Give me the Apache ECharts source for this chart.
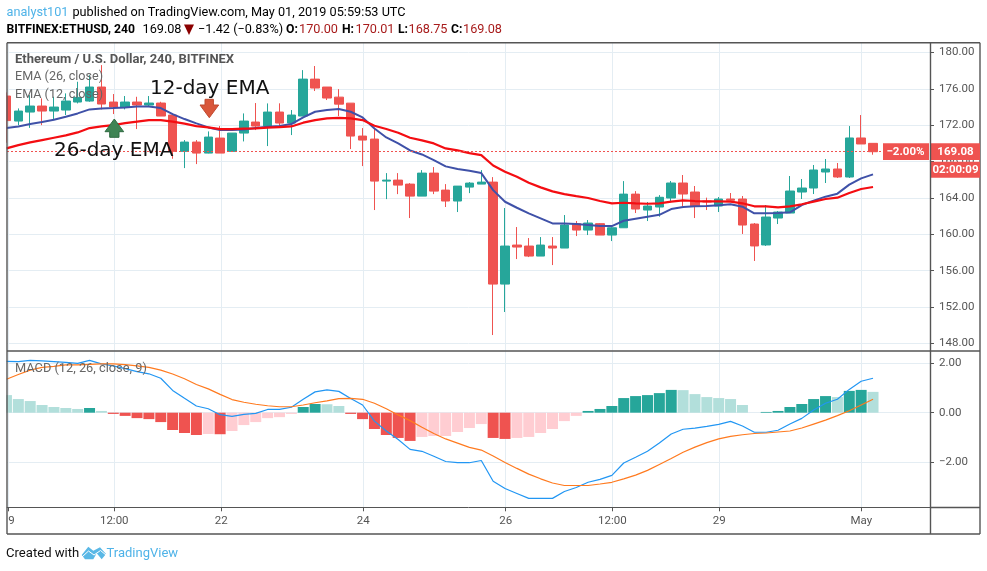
<!DOCTYPE html>
<html><head><meta charset="utf-8">
<style>html,body{margin:0;padding:0;background:#fff}#c{width:987px;height:571px}</style>
<script src="https://cdn.jsdelivr.net/npm/echarts@6/dist/echarts.min.js"></script>
</head><body><div id="c"></div>
<script>
const opens=[175.2,172.45,173.44,174.1,173.55,173.66,174.54,174.65,176.19,174.54,173.99,174.54,174.21,174.43,173.11,169.12,170.14,168.93,170.58,169.12,171.13,172.34,171.9,173.44,172.23,173.0,177.06,176.19,175.08,174.42,170.8,170.47,165.85,165.96,165.52,164.2,166.73,164.86,163.66,165.19,165.52,165.74,154.53,158.82,158.71,157.61,158.71,158.49,161.17,160.47,161.17,159.92,160.72,164.42,162.67,163.0,163.99,165.64,164.65,163.66,163.11,163.88,163.88,161.13,158.83,161.79,162.34,164.65,165.09,166.85,167.18,166.3,170.59,170.0];
const closes=[172.5,173.55,174.1,173.55,173.99,174.65,175.05,176.19,174.32,173.99,174.54,174.21,174.43,173.0,169.12,170.14,168.93,170.69,168.93,171.13,172.45,171.9,173.44,172.23,173.11,177.06,176.08,174.98,174.31,170.8,170.36,165.85,165.96,165.41,164.2,166.73,164.75,163.66,165.3,165.63,165.74,154.53,158.71,158.6,157.61,158.82,158.49,161.02,160.47,161.24,159.92,160.72,164.42,162.78,163.11,164.07,165.64,164.43,163.11,163.55,163.88,163.74,161.02,158.72,161.9,162.45,164.76,165.09,167.07,167.18,166.3,170.59,169.93,169.08];
const lows=[170.07,172.0,171.7,172.0,172.56,173.11,174.39,174.57,173.73,173.22,173.73,171.57,174.02,173.0,168.31,167.28,167.72,168.9,168.93,169.12,170.21,171.46,169.7,171.9,170.91,173.0,175.75,174.76,173.0,169.37,167.5,162.67,163.87,164.42,161.79,164.2,164.42,163.0,162.45,164.53,165.52,148.93,151.46,157.28,157.5,157.61,156.62,158.49,159.81,159.92,159.92,159.26,160.72,162.34,161.46,161.94,163.66,163.11,161.79,162.67,162.45,163.55,160.04,157.07,158.72,161.13,162.34,163.88,164.43,165.64,166.19,166.19,169.93,168.75];
const highs=[175.6,173.84,175.3,174.94,175.12,175.49,176.77,177.5,178.6,175.42,175.2,175.12,175.2,174.57,173.11,170.36,170.36,171.31,171.9,171.13,173.29,174.43,174.39,174.4,173.66,178.05,178.5,176.19,175.96,174.42,171.68,171.64,166.73,166.73,165.63,167.06,167.39,165.52,165.3,165.74,167.06,166.29,162.89,160.8,159.59,159.7,159.7,162.12,161.46,161.57,161.24,160.9,165.85,164.75,163.55,164.31,165.86,166.52,165.31,164.03,164.1,164.54,164.21,161.24,163.22,162.56,166.41,166.08,167.62,168.28,167.84,171.9,173.11,170.01];
const emaBlue=[171.68,171.86,172.12,172.34,172.6,172.93,173.29,173.73,173.84,173.88,173.95,174.06,174.06,173.88,173.22,172.67,172.19,171.75,171.46,171.46,171.53,171.68,171.83,171.9,172.12,172.85,173.47,173.66,173.77,173.47,172.85,171.64,170.65,169.99,169.22,168.78,168.16,167.47,167.17,166.99,166.73,164.86,163.58,162.92,162.3,161.75,161.2,161.2,161.13,161.02,160.91,160.91,161.49,161.71,161.93,162.14,162.78,163.0,163.08,163.11,163.19,163.3,163.04,162.31,162.31,162.34,162.42,163.22,163.7,164.14,164.47,165.46,166.15,166.59];
const emaRed=[169.45,169.81,170.1,170.36,170.62,170.87,171.2,171.68,171.86,172.01,172.23,172.38,172.56,172.56,172.38,172.16,171.9,171.75,171.57,171.57,171.61,171.64,171.72,171.79,171.86,172.27,172.56,172.74,172.81,172.74,172.56,171.93,171.57,171.16,170.62,170.32,169.99,169.44,169.22,168.93,168.71,167.57,166.88,166.33,165.67,165.16,164.72,164.42,164.2,163.99,163.66,163.4,163.47,163.4,163.36,163.41,163.59,163.74,163.66,163.63,163.63,163.59,163.41,163.08,163.08,162.97,163.08,163.3,163.59,163.88,164.03,164.54,164.98,165.2];
const macdLine=[2.07,2.06,2.11,2.09,2.06,2.03,1.99,2.11,1.97,1.89,1.78,1.66,1.57,1.39,0.9,0.58,0.27,0.16,-0.08,-0.15,-0.07,-0.03,0.13,0.13,0.22,0.54,0.84,0.92,0.86,0.57,0.31,-0.34,-0.74,-1.08,-1.48,-1.56,-1.76,-1.97,-2.02,-2.02,-1.93,-2.77,-3.06,-3.26,-3.46,-3.46,-3.46,-3.18,-3.02,-2.81,-2.69,-2.53,-2.03,-1.8,-1.56,-1.22,-0.86,-0.67,-0.62,-0.55,-0.47,-0.35,-0.54,-0.79,-0.79,-0.71,-0.46,-0.23,0.11,0.38,0.54,0.94,1.27,1.39];
const signalLine=[1.35,1.54,1.72,1.83,1.87,1.93,1.93,1.95,1.97,1.97,1.94,1.89,1.83,1.72,1.56,1.37,1.14,0.96,0.74,0.53,0.42,0.34,0.28,0.24,0.24,0.31,0.4,0.48,0.57,0.58,0.54,0.38,0.16,-0.09,-0.32,-0.59,-0.84,-1.06,-1.23,-1.4,-1.51,-1.75,-2.01,-2.25,-2.48,-2.67,-2.84,-2.94,-2.94,-2.94,-2.88,-2.81,-2.67,-2.52,-2.33,-2.09,-1.85,-1.6,-1.39,-1.21,-1.06,-0.96,-0.89,-0.84,-0.82,-0.78,-0.74,-0.62,-0.46,-0.3,-0.12,0.08,0.31,0.54];
const histogram=[0.71,0.55,0.47,0.31,0.23,0.19,0.15,0.19,0.07,-0.05,-0.13,-0.22,-0.26,-0.38,-0.7,-0.82,-0.9,-0.86,-0.87,-0.74,-0.5,-0.38,-0.22,-0.18,-0.05,0.23,0.35,0.34,0.27,-0.05,-0.26,-0.66,-0.9,-1.02,-1.14,-0.98,-0.94,-0.94,-0.78,-0.62,-0.46,-1.02,-1.06,-1.02,-0.98,-0.82,-0.66,-0.34,-0.13,0.07,0.15,0.27,0.59,0.67,0.71,0.79,0.92,0.91,0.75,0.63,0.59,0.55,0.31,0,0.03,0.07,0.23,0.35,0.55,0.67,0.63,0.88,0.92,0.84];
const timeTickIndex=[0.16,9.08,18.1,30.06,42.06,51.04,60.05,72.02];
const timeTickLabels=['9','12:00','22','24','26','12:00','29','May'];
const priceTicks=[148,152,156,160,164,168,172,176,180];
const macdTicks=[-2,0,2];
const lastClose=169.08;
const changePct='−2.00%';
const countdown='02:00:09';

const GRID='#e4edf3',FRAME='#555',TXT='#555',UP='#26a69a',DOWN='#ef5350',FONT='Roboto';
const money=v=>v.toFixed(2).replace('-','−');
const chart=echarts.init(document.getElementById('c'),null,{renderer:'canvas'});
const idx=opens.map((_,i)=>i);
const xBase={type:'value',min:0.046,max:77.8,splitLine:{show:true,lineStyle:{color:GRID,width:1}}};
const histColor=(v,i)=>{const p=i?histogram[i-1]:Infinity;return v>=0?(v>p?UP:'#b2dfdb'):(v<p?DOWN:'#ffcdd2');};
const axisFont={color:TXT,fontFamily:FONT,fontSize:11.5};
chart.setOption({
  animation:false,
  grid:[{left:7,right:57,top:43,height:307.5},{left:7,right:57,top:351.5,height:155.8}],
  xAxis:[
    Object.assign({},xBase,{gridIndex:0,axisLine:{show:false},axisTick:{show:false,customValues:timeTickIndex},axisLabel:{show:false,customValues:timeTickIndex}}),
    Object.assign({},xBase,{gridIndex:1,axisLine:{show:true,onZero:false,lineStyle:{color:FRAME}},
      axisTick:{show:true,length:4,lineStyle:{color:FRAME},customValues:timeTickIndex},
      axisLabel:Object.assign({},axisFont,{show:true,margin:8,alignMinLabel:'left',showMinLabel:true,showMaxLabel:true,customValues:timeTickIndex,
        formatter:v=>{const k=timeTickIndex.findIndex(t=>Math.abs(t-v)<0.01);return k<0?'':timeTickLabels[k];}})})
  ],
  yAxis:[
    {type:'value',gridIndex:0,position:'right',min:147.23,max:181.03,splitLine:{show:true,lineStyle:{color:GRID}},
      axisLine:{show:true,onZero:false,lineStyle:{color:FRAME}},axisTick:{show:true,length:4,lineStyle:{color:FRAME},customValues:priceTicks},
      axisLabel:Object.assign({},axisFont,{margin:9,customValues:priceTicks,formatter:money,padding:[4,0,0,0]})},
    {type:'value',gridIndex:1,position:'right',min:-3.82,max:2.47,splitLine:{show:true,lineStyle:{color:GRID}},
      axisLine:{show:true,onZero:false,lineStyle:{color:FRAME}},axisTick:{show:true,length:4,lineStyle:{color:FRAME},customValues:macdTicks},
      axisLabel:Object.assign({},axisFont,{margin:9,customValues:macdTicks,formatter:money,padding:[4,0,0,0]})}
  ],
  series:[
    {type:'candlestick',xAxisIndex:0,yAxisIndex:0,barWidth:9,encode:{x:0,y:[1,2,3,4]},
      data:idx.map(i=>[i,opens[i],closes[i],lows[i],highs[i]]),
      itemStyle:{color:UP,color0:DOWN,borderColor:UP,borderColor0:DOWN,borderWidth:1},
      markLine:{silent:true,symbol:'none',animation:false,label:{show:false},lineStyle:{color:DOWN,type:[2,2],width:1},data:[{yAxis:lastClose}]}},
    {type:'line',xAxisIndex:0,yAxisIndex:0,data:idx.map(i=>[i,emaBlue[i]]),showSymbol:false,symbol:'none',lineStyle:{color:'#3f51a8',width:2},z:3},
    {type:'line',xAxisIndex:0,yAxisIndex:0,data:idx.map(i=>[i,emaRed[i]]),showSymbol:false,symbol:'none',lineStyle:{color:'#f40d12',width:2.2},z:4},
    {type:'bar',xAxisIndex:1,yAxisIndex:1,barWidth:11,clip:true,data:idx.map(i=>({value:[i,histogram[i]],itemStyle:{color:histColor(histogram[i],i)}}))},
    {type:'line',xAxisIndex:1,yAxisIndex:1,data:idx.map(i=>[i,macdLine[i]]),showSymbol:false,symbol:'none',lineStyle:{color:'#2196f3',width:1.2},z:4},
    {type:'line',xAxisIndex:1,yAxisIndex:1,data:idx.map(i=>[i,signalLine[i]]),showSymbol:false,symbol:'none',lineStyle:{color:'#ff7a1f',width:1.2},z:5}
  ]
});
const y0=chart.convertToPixel({yAxisIndex:0},lastClose);
const T=(text,x,y,o)=>({type:'text',z:100,silent:true,x,y,style:Object.assign({text,fill:'#000',font:'13px '+FONT,verticalAlign:'middle'},o||{})});
const hf='12.7px '+FONT,hb='bold 12.2px '+FONT,RED='#a81c1c';
const box=(x,y,w,h)=>({type:'rect',z:99,silent:true,shape:{x,y,width:w,height:h},style:{fill:DOWN}});
const line=(a,b,c,d,z)=>({type:'line',z:z||98,silent:true,shape:{x1:a,y1:b,x2:c,y2:d},style:{stroke:FRAME,lineWidth:1.4}});
const label='12.6px '+FONT,boxFont='bold 11.5px '+FONT;
chart.setOption({graphic:[
  {type:'rect',z:97,silent:true,shape:{x:0,y:40,width:6.3,height:500},style:{fill:'#fff'}},
  line(7,42.8,980,42.8),line(7,42.8,7,534),line(980,42.8,980,534),line(7,534,980,534),line(7,351,980,351),line(930.5,42.8,930.5,534,101),line(930,507.5,980,507.5),
  T('analyst101',6.5,13,{font:hf,fill:'#4fb3e8'}),
  T('published on TradingView.com, May 01, 2019 05:59:53 UTC',72.5,13,{font:hf}),
  T('BITFINEX:ETHUSD, 240',6.5,30,{font:hb}),
  T('169.08',142.5,30,{font:hf}),
  {type:'polygon',z:100,silent:true,shape:{points:[[184,24.5],[194,24.5],[189,35]]},style:{fill:'#8b0000'}},
  T('−1.42 (−0.83%)',198,30,{font:hf}),
  T('O:',286,30,{font:hb}),T('170.00',299,30,{font:hf,fill:RED}),
  T('H:',342,30,{font:hb}),T('170.01',355.5,30,{font:hf,fill:RED}),
  T('L:',398,30,{font:hb}),T('168.75',408.5,30,{font:hf,fill:RED}),
  T('C:',451,30,{font:hb}),T('169.08',463,30,{font:hf,fill:RED}),
  T('Ethereum / U.S. Dollar, 240, BITFINEX',15,60,{font:'bold 13px '+FONT,fill:'#555'}),
  T('EMA (26, close)',15,77,{font:label,fill:'#666'}),
  T('EMA (12, close)',15,94.5,{font:label,fill:'#666'}),
  T('MACD (12, 26, close, 9)',15,369,{font:'12.8px '+FONT,fill:'#666'}),
  T('12-day EMA',150,89,{font:'20px "DejaVu Sans"',fill:'#111'}),
  T('26-day EMA',54,150.5,{font:'20px "DejaVu Sans"',fill:'#111'}),
  {type:'polygon',z:100,silent:true,shape:{points:[[114.3,119],[123.7,131.7],[119,131.7],[119,137.3],[109.7,137.3],[109.7,131.7],[105,131.7]]},style:{fill:'#3f8454',stroke:'#2f6b40',lineWidth:1}},
  {type:'polygon',z:100,silent:true,shape:{points:[[205,99.3],[213.4,99.3],[213.4,105],[218.7,105],[209.3,117.7],[200,105],[205,105]]},style:{fill:'#d9573b',stroke:'#c04a30',lineWidth:1}},
  box(883,y0-8.4,46,16.8),box(930,y0-8.4,50,16.8),box(930,y0+10,50,16),
  T(changePct,905.5,y0,{font:boxFont,fill:'#fff',align:'center'}),
  T(money(lastClose),955.5,y0,{font:boxFont,fill:'#fff',align:'center'}),
  T(countdown,955.5,y0+18,{font:boxFont,fill:'#fff',align:'center'}),
  T('Created with',6,553.5,{font:'13.1px '+FONT,fill:'#111'}),
  {type:'polygon',z:100,silent:true,shape:{points:[[81.7,555],[88.3,546.7],[93.3,550.7],[100,547.3],[106,554],[101.7,559.3],[96.7,553.3],[93.3,559.3],[85,559.3]]},style:{fill:'#5ab8e6'}},
  {type:'polyline',z:101,silent:true,shape:{points:[[82,557],[88.5,551],[94,555],[100.5,550.5],[106,555]]},style:{stroke:'#fff',fill:null,lineWidth:1}},
  T('TradingView',106.5,553.5,{font:'13px '+FONT,fill:'#4fb3e8'})
]});
</script></body></html>
